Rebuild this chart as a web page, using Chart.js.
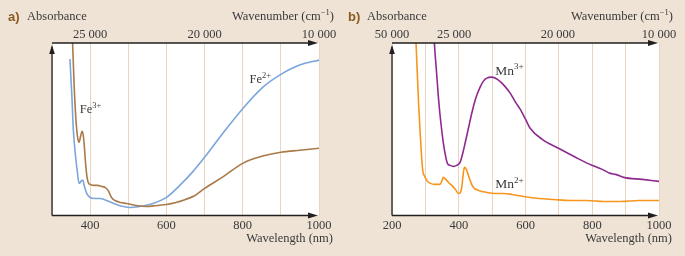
<!DOCTYPE html>
<html><head><meta charset="utf-8">
<script src="https://cdn.jsdelivr.net/npm/chart.js@4"></script>
<style>
html,body{margin:0;padding:0;background:#EFE3D6;}
#wrap{position:relative;width:685px;height:256px;overflow:hidden;background:#EFE3D6;}
canvas{position:absolute;top:0;}
</style></head><body>
<div id="wrap">
<canvas id="ca" width="340" height="256" style="left:0"></canvas>
<canvas id="cb" width="345" height="256" style="left:340px"></canvas>
</div>
<script>
// ---- Panel a: Fe ----
const fe2Wavelength = [347, 352, 356, 361, 366, 371, 374, 378, 381, 385, 391, 400, 413, 426, 443, 456, 469, 487, 504, 530, 565, 600, 635, 670, 700, 748, 801, 853, 897, 949, 1000];
const fe2Absorbance = [156, 120, 85, 62, 45, 32, 33, 35, 35, 29, 22, 18, 17, 17, 15, 13, 11, 9, 8, 9, 12, 18, 30, 44, 58, 82, 107, 128, 140, 150, 155];
const fe3Wavelength = [351, 354, 358, 362, 365, 368, 371, 375, 379, 382, 385, 388, 392, 396, 400, 410, 420, 430, 439, 447, 456, 465, 480, 495, 520, 548, 575, 600, 625, 650, 675, 700, 750, 800, 850, 900, 950, 1000];
const fe3Absorbance = [200, 172, 130, 100, 85, 76, 73, 79, 84, 80, 68, 52, 38, 32, 31, 30, 30, 29, 28, 25, 18, 15, 13, 12, 10, 9, 10, 11, 13, 16, 20, 27, 39, 52, 59, 63, 65, 67];
// ---- Panel b: Mn ----
const mn2Wavelength = [268, 272, 276, 280, 284, 288, 292, 298, 304, 315, 329, 344, 350, 354, 358, 364, 372, 379, 390, 399, 405, 409, 413, 417, 421, 426, 435, 444, 460, 484, 510, 534, 560, 594, 640, 684, 734, 784, 834, 884, 940, 1000];
const mn2Absorbance = [200, 172, 140, 110, 85, 62, 45, 39, 35, 32, 31, 31, 35, 38, 37, 35, 32, 30, 26, 22, 23, 28, 40, 48, 47, 43, 34, 28, 25, 23, 22, 22, 21, 19, 17, 16, 15, 15, 14, 14, 15, 15];
const mn3Wavelength = [324, 327, 333, 339, 344, 349, 354, 359, 366, 374, 384, 394, 404, 412, 419, 429, 439, 450, 464, 474, 484, 499, 519, 535, 554, 570, 584, 600, 614, 650, 699, 750, 799, 830, 854, 870, 894, 950, 1000];
const mn3Absorbance = [195, 172, 145, 118, 100, 85, 72, 62, 52, 50, 49, 50, 53, 62, 72, 87, 102, 116, 128, 134, 137, 138, 135, 130, 122, 113, 106, 96, 87, 76, 67, 58, 50, 46, 42, 41, 38, 36, 34];
// ---- Axes ----
const gridA = [300, 400, 500, 600, 700, 800, 900, 1000];
const gridB = [200, 300, 400, 500, 600, 700, 800, 900, 1000];
const bottomLabelsA = [400, 600, 800, 1000];
const bottomLabelsB = [200, 400, 600, 800, 1000];
const topTickPosA = [400, 700, 1000];
const topTickLabelsA = ['25 000', '20 000', '10 000'];
const topTickPosB = [200, 386, 697, 1000];
const topTickLabelsB = ['50 000', '25 000', '20 000', '10 000'];

const SERIF = '"Liberation Serif", "Times New Roman", serif';
const INK = '#231F20';
const TXT = '#3a3a3a';

function supText(ctx, x, y, base, sup, size, align) {
  ctx.font = size + 'px ' + SERIF;
  const wb = ctx.measureText(base).width;
  ctx.font = (size * 0.68) + 'px ' + SERIF;
  const ws = ctx.measureText(sup).width;
  let x0 = x;
  if (align === 'right') x0 = x - wb - ws;
  ctx.textAlign = 'left';
  ctx.font = size + 'px ' + SERIF;
  ctx.fillText(base, x0, y);
  ctx.font = (size * 0.68) + 'px ' + SERIF;
  ctx.fillText(sup, x0 + wb, y - size * 0.38);
  return x0 + wb + ws;
}

const decor = {
  id: 'decor',
  beforeDraw(chart) {
    const { ctx, chartArea: a } = chart;
    ctx.save();
    ctx.fillStyle = '#ffffff';
    ctx.fillRect(a.left, a.top, a.right - a.left, a.bottom - a.top);
    ctx.restore();
  },
  afterDraw(chart, args, o) {
    const { ctx, chartArea: a } = chart;
    const xs = chart.scales.x, ys = chart.scales.y;
    ctx.save();
    ctx.strokeStyle = INK; ctx.fillStyle = INK; ctx.lineWidth = 1.3;
    const L = a.left, R = a.right, T = a.top, B = a.bottom;
    ctx.beginPath();
    ctx.moveTo(L, B); ctx.lineTo(L, T + 4);
    ctx.moveTo(L, B); ctx.lineTo(R - 6, B);
    ctx.moveTo(L, T); ctx.lineTo(R - 6, T);
    ctx.stroke();
    const head = (tx, ty, dir) => {
      ctx.beginPath();
      if (dir === 'right') { ctx.moveTo(tx, ty); ctx.lineTo(tx - 10, ty - 3); ctx.lineTo(tx - 10, ty + 3); }
      else { ctx.moveTo(tx, ty); ctx.lineTo(tx - 2.8, ty + 9); ctx.lineTo(tx + 2.8, ty + 9); }
      ctx.closePath(); ctx.fill();
    };
    head(R - 1, B, 'right');
    head(R - 1, T, 'right');
    head(L, T + 2, 'up');
    // titles
    ctx.textBaseline = 'alphabetic';
    ctx.fillStyle = '#8A5A22';
    ctx.font = 'bold 13px "Liberation Sans", Arial, sans-serif';
    ctx.textAlign = 'left';
    ctx.fillText(o.letter, 8, 20.5);
    ctx.fillStyle = TXT;
    ctx.font = '12.5px ' + SERIF;
    ctx.fillText('Absorbance', 27, 20);
    // Wavenumber (cm^-1) right aligned
    ctx.font = '12.5px ' + SERIF;
    const w1 = ctx.measureText('Wavenumber (cm').width;
    ctx.font = '8.5px ' + SERIF;
    const w2 = ctx.measureText('\u22121').width;
    ctx.font = '12.5px ' + SERIF;
    const w3 = ctx.measureText(')').width;
    let x0 = o.rightText - (w1 + w2 + w3);
    ctx.fillText('Wavenumber (cm', x0, 20);
    ctx.font = '8.5px ' + SERIF;
    ctx.fillText('\u22121', x0 + w1, 15);
    ctx.font = '12.5px ' + SERIF;
    ctx.fillText(')', x0 + w1 + w2, 20);
    ctx.textAlign = 'right';
    ctx.fillText('Wavelength (nm)', o.rightText - 1, 241.5);
    // species labels in data coordinates
    o.labels.forEach(l => {
      supText(ctx, xs.getPixelForValue(l.x), ys.getPixelForValue(l.y), l.base, l.sup, l.size, 'left');
    });
    ctx.restore();
  }
};

function makeChart(id, c) {
  return new Chart(document.getElementById(id), {
    type: 'line',
    data: {
      datasets: c.series.map(s => ({
        data: s.x.map((v, i) => ({ x: v, y: s.y[i] })),
        borderColor: s.color, borderWidth: 1.6, pointRadius: 0,
        cubicInterpolationMode: 'monotone', fill: false
      }))
    },
    options: {
      responsive: false, devicePixelRatio: 1, animation: false, events: [],
      layout: { padding: { left: 52, right: c.padRight, top: 26, bottom: 20.5 } },
      plugins: {
        legend: { display: false }, tooltip: { enabled: false },
        decor: { letter: c.letter, rightText: c.rightText, labels: c.labels }
      },
      scales: {
        x: {
          type: 'linear', position: 'bottom', min: c.xmin, max: 1000,
          afterBuildTicks: sc => { sc.ticks = c.grid.map(v => ({ value: v })); },
          ticks: {
            autoSkip: false, maxRotation: 0, padding: 2.5, color: TXT,
            font: { family: SERIF, size: 12.5 },
            callback: v => c.bottom.includes(v) ? String(v) : ''
          },
          grid: { color: '#E8D6C2', lineWidth: 1, drawTicks: false },
          border: { display: false }
        },
        x2: {
          type: 'linear', position: 'top', min: c.xmin, max: 1000,
          afterBuildTicks: sc => { sc.ticks = c.topPos.map(v => ({ value: v })); },
          ticks: {
            autoSkip: false, maxRotation: 0, padding: 1, color: TXT,
            font: { family: SERIF, size: 12.5 },
            callback: (v, i) => c.topLabels[i]
          },
          grid: { display: false, drawTicks: false },
          border: { display: false }
        },
        y: { min: 0, max: 172, display: false }
      }
    },
    plugins: [decor]
  });
}

makeChart('ca', {
  letter: 'a)', xmin: 300, padRight: 21, rightText: 334,
  grid: gridA, bottom: bottomLabelsA, topPos: topTickPosA, topLabels: topTickLabelsA,
  series: [
    { x: fe3Wavelength, y: fe3Absorbance, color: '#A97A4A' },
    { x: fe2Wavelength, y: fe2Absorbance, color: '#7BA6DC' }
  ],
  labels: [
    { x: 373, y: 102, base: 'Fe', sup: '3+', size: 12.5 },
    { x: 818, y: 132, base: 'Fe', sup: '2+', size: 12.5 }
  ]
});

makeChart('cb', {
  letter: 'b)', xmin: 200, padRight: 26, rightText: 333,
  grid: gridB, bottom: bottomLabelsB, topPos: topTickPosB, topLabels: topTickLabelsB,
  series: [
    { x: mn2Wavelength, y: mn2Absorbance, color: '#F7961E' },
    { x: mn3Wavelength, y: mn3Absorbance, color: '#8E2A8F' }
  ],
  labels: [
    { x: 509, y: 140.5, base: 'Mn', sup: '3+', size: 13.5 },
    { x: 509, y: 27.5, base: 'Mn', sup: '2+', size: 13.5 }
  ]
});
</script>
</body></html>
